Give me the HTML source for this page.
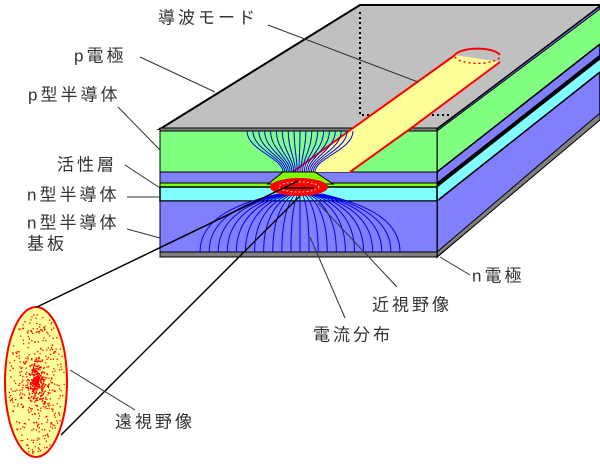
<!DOCTYPE html>
<html><head><meta charset="utf-8"><style>
html,body{margin:0;padding:0;background:#fff;width:600px;height:464px;overflow:hidden}
svg text{font-family:"Liberation Sans","Noto Sans CJK JP",sans-serif;font-size:17px;fill:#333;letter-spacing:3px;dominant-baseline:central}
</style></head><body>
<svg id="s" width="600" height="464" viewBox="0 0 600 464" xmlns="http://www.w3.org/2000/svg">
<defs><clipPath id="cf"><rect x="161" y="131" width="275" height="121"/></clipPath></defs>
<polygon points="160,129 360,5 600,5 600,8 437,129" fill="#c0c0c0" stroke="#000" stroke-width="2"/>
<polygon points="437,129 600,6 600,118 437,257" fill="#8080ff" stroke="#000" stroke-width="1.5"/>
<polygon points="437,131 600,9 600,44 437,172" fill="#80ff80"/>
<polygon points="437,187 600,60 600,72 437,201" fill="#80ffff"/>
<line x1="437" y1="185" x2="600" y2="57" stroke="#000" stroke-width="4"/>
<line x1="437" y1="201" x2="600" y2="72" stroke="#000" stroke-width="1.5"/>
<line x1="437" y1="172" x2="600" y2="44" stroke="#000" stroke-width="1.5"/>
<line x1="437" y1="131" x2="600" y2="9" stroke="#000" stroke-width="1"/>
<polygon points="437,252 600,113 600,120 437,257" fill="#808080" stroke="#000" stroke-width="1"/>
<line x1="437" y1="129" x2="437" y2="257" stroke="#000" stroke-width="1.5"/>
<polyline points="360,12 360,115 452,115" fill="none" stroke="#000" stroke-width="2" stroke-dasharray="2,3"/>
<rect x="160" y="128" width="277" height="4" fill="#808080" stroke="#000" stroke-width="1"/>
<rect x="160" y="131" width="277" height="41" fill="#80ff80" stroke="#000" stroke-width="1"/>
<rect x="160" y="172" width="277" height="11" fill="#8080ff" stroke="#000" stroke-width="1"/>
<rect x="160" y="183" width="277" height="4" fill="#80ff00" stroke="#000" stroke-width="1"/>
<rect x="160" y="187" width="277" height="14" fill="#80ffff" stroke="#000" stroke-width="1.5"/>
<rect x="160" y="201" width="277" height="51" fill="#8080ff" stroke="#000" stroke-width="1"/>
<rect x="160" y="252" width="277" height="5" fill="#808080" stroke="#000" stroke-width="1"/>
<polygon points="290,172 353,128 455,55 500,62 410,129 350,172" fill="#ffff99"/>
<polyline points="290,174 353,128 455,55" fill="none" stroke="#f00" stroke-width="2"/>
<polyline points="350,172 410,129 500,62" fill="none" stroke="#f00" stroke-width="2"/>
<path d="M455,55 A23,8 0 0 1 500,55" fill="none" stroke="#f00" stroke-width="2"/>
<path d="M455,57 A23,8 0 0 0 500,57" fill="none" stroke="#f00" stroke-width="1.5" stroke-dasharray="2,3"/>
<g id="fl" fill="none" stroke="#0000ee" stroke-width="1" clip-path="url(#cf)"></g>
<polygon points="268,184 283,172 315,172 333,184" fill="#80ff00" stroke="#000" stroke-width="1"/>
<ellipse cx="299" cy="187" rx="29" ry="9" fill="#f00"/>
<ellipse cx="299" cy="187" rx="20" ry="5" fill="none" stroke="#fcc" stroke-width="1" stroke-dasharray="2,2"/>
<line x1="284" y1="188" x2="314" y2="188" stroke="#000" stroke-width="1.5"/>
<ellipse cx="36" cy="382" rx="31" ry="75" fill="#ffff99" stroke="#f00" stroke-width="2"/>
<g id="dots" fill="#f00"></g>
<line x1="37" y1="307" x2="298" y2="181" stroke="#000" stroke-width="1.5"/>
<line x1="61" y1="435" x2="300" y2="196" stroke="#000" stroke-width="1.5"/>
<g stroke="#333" stroke-width="1">
<line x1="268" y1="25" x2="418" y2="82"/>
<line x1="140" y1="57" x2="215" y2="92"/>
<line x1="118" y1="107" x2="160" y2="150"/>
<line x1="125" y1="165" x2="160" y2="188"/>
<line x1="127" y1="197" x2="160" y2="197"/>
<line x1="127" y1="229" x2="160" y2="238"/>
<line x1="440" y1="257" x2="470" y2="275"/>
<line x1="318" y1="203" x2="397" y2="287"/>
<line x1="310" y1="237" x2="345" y2="318"/>
<line x1="70" y1="370" x2="135" y2="410"/>
</g>
<text x="158" y="18">導波モード</text>
<text x="74" y="56">p電極</text>
<text x="28" y="95">p型半導体</text>
<text x="57" y="165">活性層</text>
<text x="27" y="195">n型半導体</text>
<text x="27" y="223">n型半導体</text>
<text x="27" y="244">基板</text>
<text x="472" y="276">n電極</text>
<text x="372" y="305">近視野像</text>
<text x="313" y="335">電流分布</text>
<text x="115" y="422">遠視野像</text>
</svg>
<script>
var g=document.getElementById('fl'),ns='http://www.w3.org/2000/svg',d='';
for(var i=0;i<=18;i++){var t=i/18;var x0=283+32*t;var x1=247+106*t;
d+='M'+x0+',172 C'+x0+',158 '+x1+',150 '+x1+',131 ';}
for(var i=0;i<=22;i++){var t=i/22;var x0=278+44*t;var c=t-0.5;var x1=300+c*200;
var xm=300+c*110;var ym=198+Math.abs(c)*8;
d+='M'+x0+',194 C'+xm+','+ym+' '+x1+',215 '+x1+',252 ';}
var p=document.createElementNS(ns,'path');p.setAttribute('d',d);g.appendChild(p);
var dg=document.getElementById('dots'),s=7;function r(){s=(s*9301+49297)%233280;return s/233280;}
for(var k=0;k<500;k++){var a=r()*6.283,m=Math.pow(r(),0.8);var x=36+Math.cos(a)*m*28,y=382+Math.sin(a)*m*72;
var e=document.createElementNS(ns,'rect');e.setAttribute('x',x.toFixed(1));e.setAttribute('y',y.toFixed(1));e.setAttribute('width',1.3);e.setAttribute('height',1.3);dg.appendChild(e);}
for(var k=0;k<150;k++){var a=r()*6.283,m=r()*0.3;var e=document.createElementNS(ns,'rect');e.setAttribute('x',(36+Math.cos(a)*m*28).toFixed(1));e.setAttribute('y',(380+Math.sin(a)*m*72).toFixed(1));e.setAttribute('width',1.5);e.setAttribute('height',1.5);dg.appendChild(e);}
</script>
</body></html>
